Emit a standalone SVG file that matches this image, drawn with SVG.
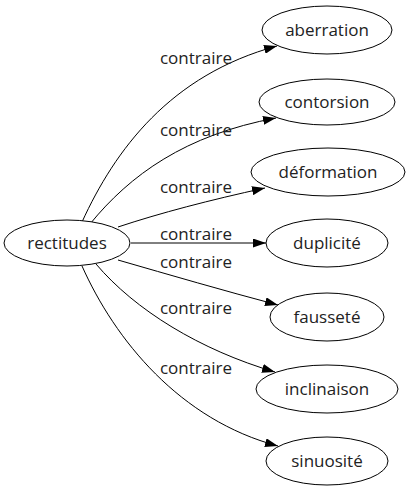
<svg xmlns="http://www.w3.org/2000/svg" width="412" height="491" viewBox="0 0 412 491">
<defs>
<style>
.n ellipse{fill:#fff;stroke:#000;stroke-width:1}
text{font-family:"Open Sans","Liberation Sans",sans-serif;font-size:17px;fill:#222;text-anchor:middle}
.e path{fill:none;stroke:#000;stroke-width:1}
</style>
<marker id="ah" viewBox="0 0 13 9" refX="13" refY="4.5" markerWidth="13" markerHeight="9" markerUnits="userSpaceOnUse" orient="auto">
<path d="M0,0 L13,4.5 L0,9 z" fill="#000"/>
</marker>
</defs>
<rect width="412" height="491" fill="#fff"/>
<g id="edges" class="e">
<path d="M82,222 C115,150 170,75 277,46" marker-end="url(#ah)"/>
<path d="M90,224 C130,175 185,135 276,118" marker-end="url(#ah)"/>
<path d="M118,227 C160,213 210,200 265,188" marker-end="url(#ah)"/>
<path d="M131,243 L266,243" marker-end="url(#ah)"/>
<path d="M118,260 C170,275 225,291 278,305" marker-end="url(#ah)"/>
<path d="M96,264 C135,310 200,350 275,372" marker-end="url(#ah)"/>
<path d="M82,266 C115,340 180,420 278,446" marker-end="url(#ah)"/>
</g>
<g id="labels">
<text x="196" y="64">contraire</text>
<text x="196" y="136">contraire</text>
<text x="196" y="193">contraire</text>
<text x="196" y="240">contraire</text>
<text x="196" y="268">contraire</text>
<text x="196" y="314">contraire</text>
<text x="196" y="374">contraire</text>
</g>
<g id="rectitudes" class="n"><ellipse cx="67" cy="243" rx="63" ry="23"/><text x="67" y="249">rectitudes</text></g>
<g id="aberration" class="n"><ellipse cx="327" cy="30" rx="65" ry="24"/><text x="327" y="36">aberration</text></g>
<g id="contorsion" class="n"><ellipse cx="327" cy="102" rx="68" ry="23"/><text x="327" y="108">contorsion</text></g>
<g id="deformation" class="n"><ellipse cx="328" cy="172" rx="77" ry="24"/><text x="328" y="178">déformation</text></g>
<g id="duplicite" class="n"><ellipse cx="327" cy="243" rx="61" ry="24"/><text x="327" y="249">duplicité</text></g>
<g id="faussete" class="n"><ellipse cx="327" cy="317" rx="57" ry="24"/><text x="327" y="323">fausseté</text></g>
<g id="inclinaison" class="n"><ellipse cx="327" cy="389" rx="71" ry="24"/><text x="327" y="395">inclinaison</text></g>
<g id="sinuosite" class="n"><ellipse cx="327" cy="461" rx="61" ry="24"/><text x="327" y="467">sinuosité</text></g>
</svg>
